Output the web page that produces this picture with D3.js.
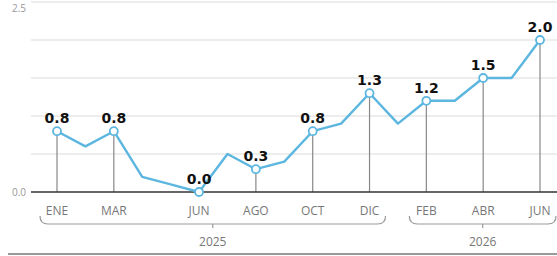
<!DOCTYPE html>
<html>
<head>
<meta charset="utf-8">
<script src="https://cdn.jsdelivr.net/npm/d3@7"></script>
<style>
  body { margin: 0; background: #fff; }
  svg { display: block; }
</style>
</head>
<body>
<div id="chart"></div>
<script>
// monthly series, Jan 2025 .. Jun 2026
const months = ["ENE25","FEB25","MAR25","ABR25","MAY25","JUN25","JUL25","AGO25","SEP25","OCT25","NOV25","DIC25",
                "ENE26","FEB26","MAR26","ABR26","MAY26","JUN26"];
const values = [0.8, 0.6, 0.8, 0.2, 0.1, 0.0, 0.5, 0.3, 0.4, 0.8, 0.9, 1.3,
                0.9, 1.2, 1.2, 1.5, 1.5, 2.0];
// months that get a marker, a label and a drop line
const marked = ["ENE25","MAR25","JUN25","AGO25","OCT25","DIC25","FEB26","ABR26","JUN26"];
const monthLabels = ["ENE","MAR","JUN","AGO","OCT","DIC","FEB","ABR","JUN"];
const years = ["2025", "2026"];
const yearRange = [["ENE25","DIC25"], ["FEB26","JUN26"]];
const yTicks = [0, 0.5, 1, 1.5, 2, 2.5];
const yLabels = [0, 2.5];

const W = 557, H = 256;
const svg = d3.select("#chart").append("svg").attr("width", W).attr("height", H);

const x = d3.scalePoint().domain(months).range([57, 540]);
const y = d3.scaleLinear().domain([0, 2.5]).range([192, 2]);

const data = months.map((m, i) => ({ m: m, v: values[i] }));

// grid lines
svg.append("g")
  .selectAll("line")
  .data(yTicks.slice(1))
  .join("line")
  .attr("x1", 31).attr("x2", W)
  .attr("y1", d => y(d)).attr("y2", d => y(d))
  .attr("stroke", "#dcdcdc")
  .attr("stroke-width", 1.2);

// y labels (top one nudged down so it stays inside)
svg.append("g")
  .selectAll("text")
  .data(yLabels)
  .join("text")
  .attr("x", 26)
  .attr("y", d => Math.max(y(d), 8))
  .attr("dy", "0.35em")
  .attr("text-anchor", "end")
  .style("font-family", "Open Sans, sans-serif")
  .style("font-size", "10px")
  .style("fill", "#999")
  .text(d => d3.format(".1f")(d));

// drop lines
svg.append("g")
  .selectAll("line")
  .data(data.filter(d => marked.includes(d.m)))
  .join("line")
  .attr("x1", d => x(d.m)).attr("x2", d => x(d.m))
  .attr("y1", d => y(d.v)).attr("y2", y(0))
  .attr("stroke", "#888")
  .attr("stroke-width", 1.2);

// baseline
svg.append("line")
  .attr("x1", 31).attr("x2", W)
  .attr("y1", y(0)).attr("y2", y(0))
  .attr("stroke", "#333")
  .attr("stroke-width", 1.5);

// the line
svg.append("path")
  .datum(data)
  .attr("fill", "none")
  .attr("stroke", "#5cb6df")
  .attr("stroke-width", 2.4)
  .attr("stroke-linejoin", "round")
  .attr("d", d3.line().x(d => x(d.m)).y(d => y(d.v)));

// markers
svg.append("g")
  .selectAll("circle")
  .data(data.filter(d => marked.includes(d.m)))
  .join("circle")
  .attr("cx", d => x(d.m))
  .attr("cy", d => y(d.v))
  .attr("r", 4)
  .attr("fill", "#fff")
  .attr("stroke", "#5cb6df")
  .attr("stroke-width", 1.8);

// value labels
svg.append("g")
  .selectAll("text")
  .data(data.filter(d => marked.includes(d.m)))
  .join("text")
  .attr("x", d => x(d.m))
  .attr("y", d => y(d.v) - 8)
  .attr("text-anchor", "middle")
  .style("font-family", "DejaVu Sans, sans-serif")
  .style("font-weight", "bold")
  .style("font-size", "14px")
  .style("fill", "#111")
  .text(d => d3.format(".1f")(d.v));

// month labels
svg.append("g")
  .selectAll("text")
  .data(marked)
  .join("text")
  .attr("x", d => x(d))
  .attr("y", 215)
  .attr("text-anchor", "middle")
  .style("font-family", "Open Sans, sans-serif")
  .style("font-size", "12px")
  .style("fill", "#777")
  .text((d, i) => monthLabels[i]);

// year brackets
const by = 224, r = 8;
yearRange.forEach((rg, i) => {
  const x0 = x(rg[0]) - 17, x1 = x(rg[1]) + 16, xm = (x0 + x1) / 2;
  svg.append("path")
    .attr("fill", "none")
    .attr("stroke", "#999")
    .attr("stroke-width", 1.2)
    .attr("d", `M${x0},${by - r} Q${x0},${by} ${x0 + r},${by} L${x1 - r},${by} Q${x1},${by} ${x1},${by - r}`
      + ` M${xm},${by} L${xm},${by + 4}`);
  svg.append("text")
    .attr("x", xm)
    .attr("y", 246)
    .attr("text-anchor", "middle")
    .style("font-family", "Open Sans, sans-serif")
    .style("font-size", "12px")
    .style("fill", "#777")
    .text(years[i]);
});

// bottom rule
svg.append("line")
  .attr("x1", 8).attr("x2", W)
  .attr("y1", 254).attr("y2", 254)
  .attr("stroke", "#999")
  .attr("stroke-width", 2);
</script>
</body>
</html>
